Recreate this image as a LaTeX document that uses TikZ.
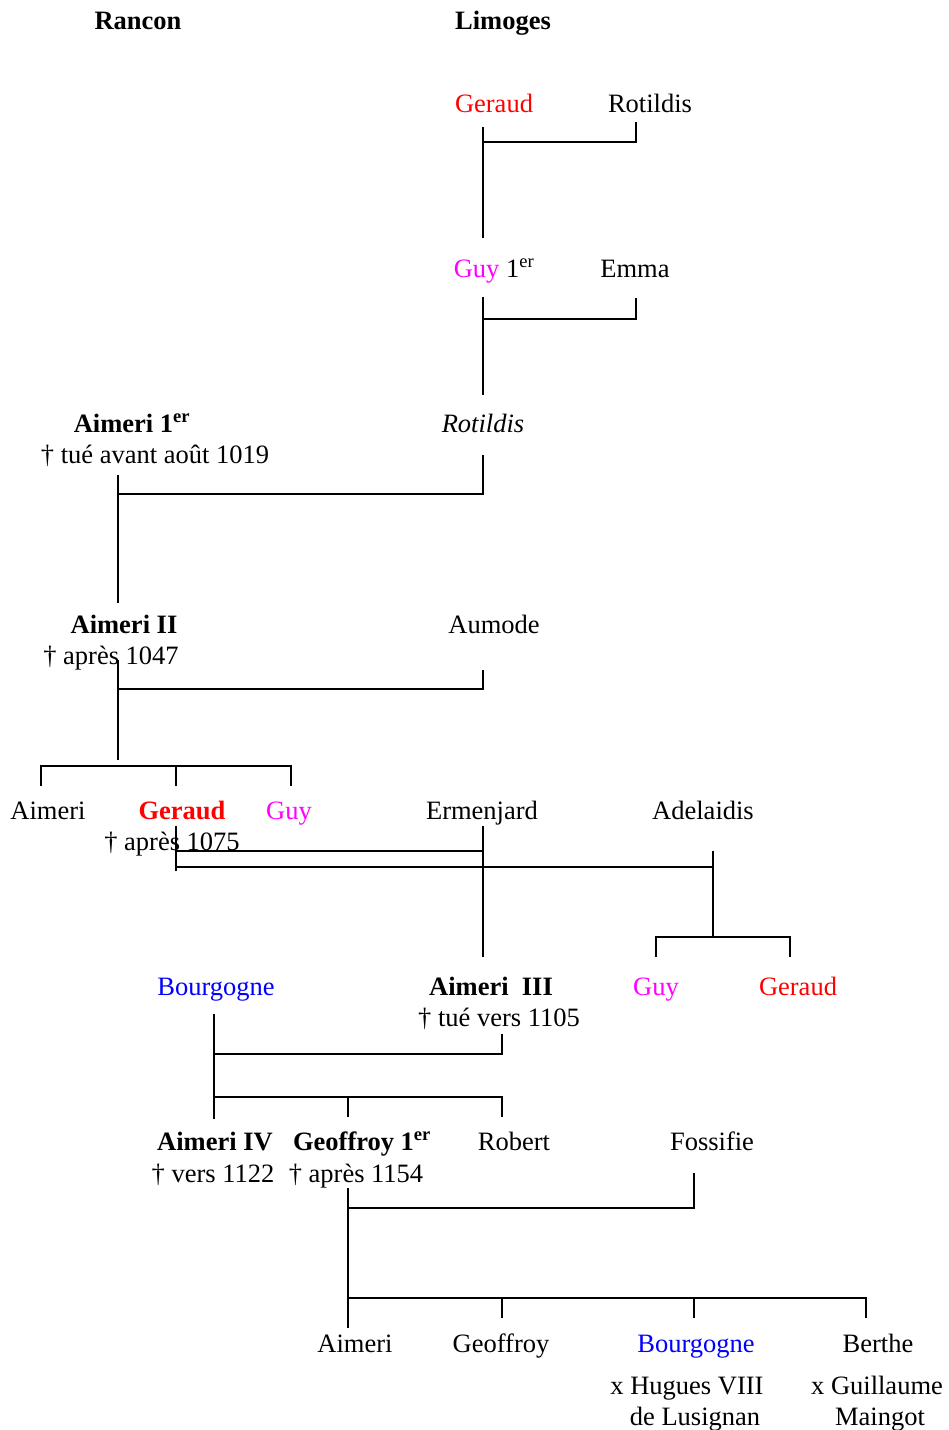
\documentclass[tikz,border=0pt]{standalone}
\usepackage{fontspec}
\setmainfont{Liberation Serif}
\definecolor{mag}{RGB}{255,0,255}
\definecolor{rd}{RGB}{255,0,0}
\definecolor{bl}{RGB}{0,0,255}
\newcommand\fsz{\fontsize{26.5}{31}\selectfont}
\tikzset{
  lbl/.style={anchor=base, inner sep=0pt, font=\fsz},
  blbl/.style={anchor=base, inner sep=0pt, font=\fsz\bfseries},
  ln/.style={line width=1.6pt, line cap=butt},
}
\begin{document}
\begin{tikzpicture}[x=1pt,y=-1pt]
\useasboundingbox (0,0) rectangle (948,1430);
% headers
\node[blbl] (rancon) at (138,29) {Rancon};
\node[blbl] (limoges) at (503,29) {Limoges};
% generation 1
\node[lbl, text=rd] (geraudA) at (494,112) {Geraud};
\node[lbl] (rotildisA) at (650,112) {Rotildis};
% generation 2
\node[lbl] (guyA) at (494,277) {\textcolor{mag}{Guy} 1\textsuperscript{er}};
\node[lbl] (emma) at (635,277) {Emma};
% generation 3
\node[lbl, font=\fsz\itshape] (rotildisB) at (483,432) {Rotildis};
\node[blbl] (aimeriA) at (132,432) {Aimeri 1\textsuperscript{er}};
\node[lbl] (aimeriAd) at (155,463) {† tué avant août 1019};
% generation 4
\node[blbl] (aimeriB) at (124,633) {Aimeri II};
\node[lbl] (aimeriBd) at (111,664) {† après 1047};
\node[lbl] (aumode) at (494,633) {Aumode};
% generation 5
\node[lbl] (aimeriC) at (48,819) {Aimeri};
\node[blbl, text=rd] (geraudB) at (182,819) {Geraud};
\node[lbl, text=mag] (guyB) at (289,819) {Guy};
\node[lbl] (geraudBd) at (172,850) {† après 1075};
\node[lbl] (ermenjard) at (482,819) {Ermenjard};
\node[lbl] (adelaidis) at (703,819) {Adelaidis};
% generation 6
\node[lbl, text=bl] (bourgogneA) at (216,995) {Bourgogne};
\node[blbl] (aimeriD) at (491,995) {Aimeri\ \ III};
\node[lbl] (aimeriDd) at (499,1026) {† tué vers 1105};
\node[lbl, text=mag] (guyC) at (656,995) {Guy};
\node[lbl, text=rd] (geraudC) at (798,995) {Geraud};
% generation 7
\node[blbl] (aimeriE) at (215,1150) {Aimeri IV};
\node[lbl] (aimeriEd) at (213,1182) {† vers 1122};
\node[blbl] (geoffroyA) at (362,1150) {Geoffroy 1\textsuperscript{er}};
\node[lbl] (geoffroyAd) at (356,1182) {† après 1154};
\node[lbl] (robert) at (514,1150) {Robert};
\node[lbl] (fossifie) at (712,1150) {Fossifie};
% generation 8
\node[lbl] (aimeriF) at (355,1352) {Aimeri};
\node[lbl] (geoffroyB) at (501,1352) {Geoffroy};
\node[lbl, text=bl] (bourgogneB) at (696,1352) {Bourgogne};
\node[lbl] (berthe) at (878,1352) {Berthe};
\node[lbl] (hugues) at (687,1394) {x Hugues VIII};
\node[lbl] (lusignan) at (695,1425) {de Lusignan};
\node[lbl] (guillaume) at (877,1394) {x Guillaume};
\node[lbl] (maingot) at (880,1425) {Maingot};
% connector points
\coordinate (c1a) at (483,127); \coordinate (c1b) at (483,238);
\coordinate (c1m) at (483,142); \coordinate (c1w) at (636,122);
\coordinate (c2a) at (483,297); \coordinate (c2b) at (483,395);
\coordinate (c2m) at (483,319); \coordinate (c2w) at (636,298);
\coordinate (c3a) at (118,475); \coordinate (c3b) at (118,603);
\coordinate (c3m) at (118,494); \coordinate (c3w) at (483,455);
\coordinate (c4a) at (118,660); \coordinate (c4b) at (118,760);
\coordinate (c4m) at (118,689); \coordinate (c4w) at (483,670);
\coordinate (k5a) at (41,786); \coordinate (k5b) at (176,786); \coordinate (k5c) at (291,786);
\coordinate (k5bar) at (176,766);
\coordinate (g5a) at (176,826); \coordinate (g5b) at (176,871);
\coordinate (g5m1) at (176,851); \coordinate (g5m2) at (176,867);
\coordinate (e5a) at (483,826); \coordinate (e5b) at (483,957);
\coordinate (a5a) at (713,851); \coordinate (a5b) at (713,937);
\coordinate (k6a) at (656,957); \coordinate (k6b) at (790,957);
\coordinate (b6a) at (214,1014); \coordinate (b6b) at (214,1119);
\coordinate (b6m) at (214,1054); \coordinate (b6w) at (502,1034);
\coordinate (b6k) at (214,1097);
\coordinate (k7b) at (348,1117); \coordinate (k7c) at (502,1117);
\coordinate (g7a) at (348,1188); \coordinate (g7b) at (348,1328);
\coordinate (g7m) at (348,1208); \coordinate (g7w) at (694,1173);
\coordinate (g7k) at (348,1298);
\coordinate (k8b) at (502,1318); \coordinate (k8c) at (694,1318); \coordinate (k8d) at (866,1318);
% connectors
\draw[ln] (c1a) -- (c1b); \draw[ln] (c1m) -| (c1w);
\draw[ln] (c2a) -- (c2b); \draw[ln] (c2m) -| (c2w);
\draw[ln] (c3a) -- (c3b); \draw[ln] (c3m) -| (c3w);
\draw[ln] (c4a) -- (c4b); \draw[ln] (c4m) -| (c4w);
\draw[ln] (k5a) |- (k5bar) -| (k5c); \draw[ln] (k5bar) -- (k5b);
\draw[ln] (g5a) -- (g5b);
\draw[ln] (g5m1) -- (g5m1 -| e5a);
\draw[ln] (g5m2) -- (g5m2 -| a5a);
\draw[ln] (e5a) -- (e5b);
\draw[ln] (a5a) -- (a5b);
\draw[ln] (k6a) |- (a5b) -| (k6b);
\draw[ln] (b6a) -- (b6b); \draw[ln] (b6m) -| (b6w);
\draw[ln] (b6k) -| (k7c); \draw[ln] (b6k -| k7b) -- (k7b);
\draw[ln] (g7a) -- (g7b); \draw[ln] (g7m) -| (g7w);
\draw[ln] (g7k) -| (k8d);
\draw[ln] (g7k -| k8b) -- (k8b);
\draw[ln] (g7k -| k8c) -- (k8c);
\end{tikzpicture}
\end{document}
